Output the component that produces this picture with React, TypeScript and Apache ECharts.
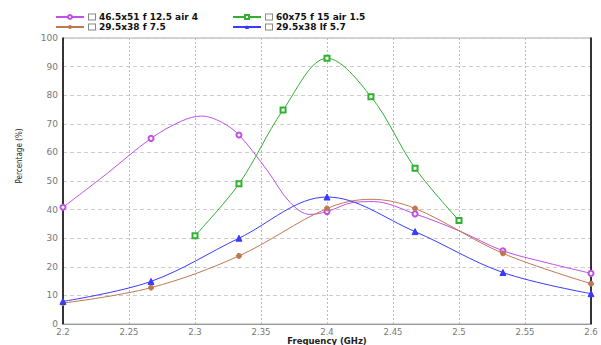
import React, { useEffect, useRef } from "react";
import * as echarts from "echarts";

const seriesNames = ["46.5x51 f 12.5 air 4", "60x75 f 15 air 1.5", "29.5x38 f 7.5", "29.5x38 lf 5.7"];
const seriesColors = ["#c050e8", "#30b030", "#c07850", "#3a3aff"];
const seriesSymbols = ["emptyCircle", "emptyRect", "circle", "triangle"];

// frequencies (GHz) where the reference draws markers
const markerFreqs = [2.2, 2.2667, 2.3333, 2.4, 2.4667, 2.5333, 2.6];

const magentaFreq = [2.2, 2.2333, 2.2667, 2.29, 2.305, 2.32, 2.3333, 2.355, 2.372, 2.387, 2.4, 2.42, 2.435, 2.4667, 2.5, 2.5333, 2.5667, 2.6];
const magentaPct = [40.8, 52.6, 64.9, 71.0, 72.7, 70.6, 66.1, 53.5, 42.5, 38.3, 39.3, 42.5, 42.8, 38.5, 32.6, 25.6, 21.4, 17.7];

const greenFreq = [2.3, 2.3333, 2.3667, 2.4, 2.4333, 2.4667, 2.5];
const greenPct = [30.9, 49.0, 74.8, 92.9, 79.5, 54.5, 36.2];

const brownFreq = [2.2, 2.2667, 2.3333, 2.4, 2.4333, 2.4667, 2.5333, 2.6];
const brownPct = [7.3, 12.7, 23.8, 40.4, 43.6, 40.4, 24.7, 14.1];

const blueFreq = [2.2, 2.2667, 2.3333, 2.4, 2.4667, 2.5333, 2.6];
const bluePct = [7.9, 14.9, 30.0, 44.4, 32.3, 18.0, 10.6];

const yTicks = [0, 10, 20, 30, 40, 50, 60, 70, 80, 90, 100];

function build(freq: number[], pct: number[], allMarked: boolean) {
  return freq.map((f, i) => {
    const marked = allMarked || markerFreqs.some((m) => Math.abs(m - f) < 0.001);
    return marked ? { value: [f, pct[i]] } : { value: [f, pct[i]], symbol: "none" };
  });
}

export default function App() {
  const ref = useRef<HTMLDivElement>(null);
  useEffect(() => {
    if (!ref.current) return;
    const chart = echarts.init(ref.current, null, { renderer: "svg" });
    const font = "DejaVu Sans, Verdana, sans-serif";
    const datasets = [
      build(magentaFreq, magentaPct, false),
      build(greenFreq, greenPct, true),
      build(brownFreq, brownPct, false),
      build(blueFreq, bluePct, false),
    ];
    const legendCommon = {
      orient: "vertical" as const,
      itemWidth: 28,
      itemHeight: 5,
      itemGap: -2,
      itemTextGap: 3,
      padding: 0,
      selectedMode: false,
      formatter: (n: string) => `{box|}{t|${n}}`,
      textStyle: {
        lineHeight: 8,
        rich: {
          box: { width: 6, height: 5, borderColor: "#888", borderWidth: 1, backgroundColor: "#fff", verticalAlign: "middle" },
          t: { fontFamily: font, fontSize: 9, lineHeight: 8, fontWeight: "bold", color: "#111", padding: [0, 0, 0, 4], verticalAlign: "middle" },
        },
      },
    };
    chart.setOption({
      animation: false,
      backgroundColor: "#fff",
      legend: [
        { ...legendCommon, left: 55, top: 11, data: [seriesNames[0], seriesNames[2]] },
        { ...legendCommon, left: 232, top: 11, data: [seriesNames[1], seriesNames[3]] },
      ],
      grid: {
        left: 63,
        right: 10,
        top: 38,
        bottom: 21,
        show: true,
        borderColor: "#aaa",
        borderWidth: 1,
        outerBoundsMode: "none",
        containLabel: false,
      },
      xAxis: {
        type: "value",
        min: 2.2,
        max: 2.6,
        interval: 0.05,
        name: "Frequency (GHz)",
        nameLocation: "middle",
        nameGap: 12,
        nameMoveOverlap: false,
        nameTextStyle: { fontFamily: font, fontSize: 8.5, lineHeight: 9, fontWeight: "bold", color: "#222" },
        axisLine: { show: true, lineStyle: { color: "#999", width: 1 } },
        axisTick: { show: false },
        axisLabel: {
          fontFamily: font,
          fontSize: 8.5,
          lineHeight: 9,
          color: "#777",
          margin: 3,
          showMinLabel: true,
          showMaxLabel: true,
          formatter: (v: number) => String(Math.round(v * 100) / 100),
        },
        splitLine: { show: true, lineStyle: { color: "#bbb", type: [2, 2], width: 1 } },
      },
      yAxis: [
        {
          type: "value",
          min: yTicks[0],
          max: yTicks[yTicks.length - 1],
          interval: 10,
          name: "Percentage (%)",
          nameLocation: "middle",
          nameGap: 40,
          nameRotate: 90,
          nameMoveOverlap: false,
          nameTextStyle: {
            fontFamily: "DejaVu Sans Condensed, Liberation Sans Narrow, sans-serif",
            fontSize: 8,
            color: "#222",
            padding: [0, 0, 0, 50],
          },
          axisLine: { show: true, lineStyle: { color: "#000", width: 1.5 } },
          axisTick: { show: false },
          axisLabel: { fontFamily: font, fontSize: 9, color: "#777", margin: 5 },
          splitLine: { show: true, lineStyle: { color: "#ccc", type: [4, 3], width: 1 } },
        },
        {
          type: "value",
          position: "right",
          min: 0,
          max: 100,
          interval: 10,
          axisLine: { show: true, lineStyle: { color: "#000", width: 1.5 } },
          axisTick: { show: false },
          axisLabel: { show: false },
          splitLine: { show: false },
        },
      ],
      series: seriesNames.map((name, i) => ({
        name,
        type: "line",
        smooth: 0.35,
        symbol: seriesSymbols[i],
        symbolSize: i === 3 ? 6 : 5,
        showSymbol: true,
        showAllSymbol: true,
        color: seriesColors[i],
        lineStyle: { color: seriesColors[i], width: 1 },
        itemStyle: { color: seriesColors[i], borderColor: seriesColors[i] },
        data: datasets[i],
      })),
    });
    return () => chart.dispose();
  }, []);
  return (
    <div
      ref={ref}
      style={{ position: "fixed", left: 0, top: 0, width: 601, height: 345, background: "#fff" }}
    />
  );
}
